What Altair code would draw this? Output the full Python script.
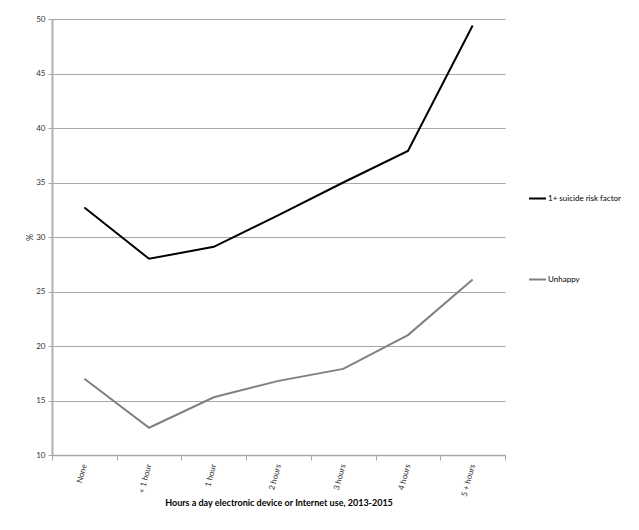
import altair as alt
import pandas as pd

categories = ["None", "< 1 hour", "1 hour", "2 hours", "3 hours", "4 hours", "5 + hours"]
suicide_risk = [32.7, 28.0, 29.1, 32.0, 35.0, 37.9, 49.4]
unhappy = [17.0, 12.5, 15.3, 16.8, 17.9, 21.0, 26.1]
series_names = ["1+ suicide risk factor", "Unhappy"]
series_colors = ["#000000", "#808080"]
y_ticks = [10, 15, 20, 25, 30, 35, 40, 45, 50]

rows = []
for c, v in zip(categories, suicide_risk):
    rows.append({"hours": c, "series": series_names[0], "value": v})
for c, v in zip(categories, unhappy):
    rows.append({"hours": c, "series": series_names[1], "value": v})
df = pd.DataFrame(rows)

FONT = "Lato"

chart = alt.Chart(df).mark_line(strokeWidth=2).encode(
    x=alt.X(
        "hours:N",
        sort=categories,
        bandPosition=0.5,
        scale=alt.Scale(type="band", paddingInner=0, paddingOuter=0),
        axis=alt.Axis(
            title="Hours a day electronic device or Internet use, 2013-2015",
            titleFont=FONT, titleFontSize=9, titleFontWeight="bold", titleColor="#000000",
            titlePadding=1,
            labelAngle=-75, labelAlign="right", labelBaseline="middle",
            labelFont=FONT, labelFontSize=8, labelColor="#333333", labelPadding=4,
            tickBand="extent", tickSize=5, tickColor="#a6a6a6", tickWidth=1,
            domainColor="#a6a6a6", domainWidth=1.5, grid=False,
        ),
    ),
    y=alt.Y(
        "value:Q",
        scale=alt.Scale(domain=[10, 50], nice=False, zero=False),
        axis=alt.Axis(
            title="%", titleFont=FONT, titleFontSize=9, titleFontWeight="normal",
            titleColor="#333333", titlePadding=1,
            values=y_ticks, labelFont=FONT, labelFontSize=8, labelColor="#333333",
            labelPadding=3,
            tickSize=4, tickColor="#a6a6a6", domainColor="#b0b0b0", domainWidth=2,
            grid=True, gridColor="#a6a6a6", gridWidth=1,
        ),
    ),
    color=alt.Color(
        "series:N",
        scale=alt.Scale(domain=series_names, range=series_colors),
        legend=alt.Legend(
            title=None, orient="none", legendX=476, legendY=170,
            symbolType="stroke", symbolSize=289, symbolStrokeWidth=2,
            labelFont=FONT, labelFontSize=8, labelColor="#000000", labelOffset=1,
            rowPadding=67,
        ),
    ),
).properties(
    width=453, height=436,
    padding={"left": 44, "top": 11, "right": 126, "bottom": 67},
    autosize=alt.AutoSizeParams(type="none"),
    background="#ffffff",
).configure_view(stroke=None)

chart.save("out.html", embed_options={"renderer": "svg", "actions": False})
